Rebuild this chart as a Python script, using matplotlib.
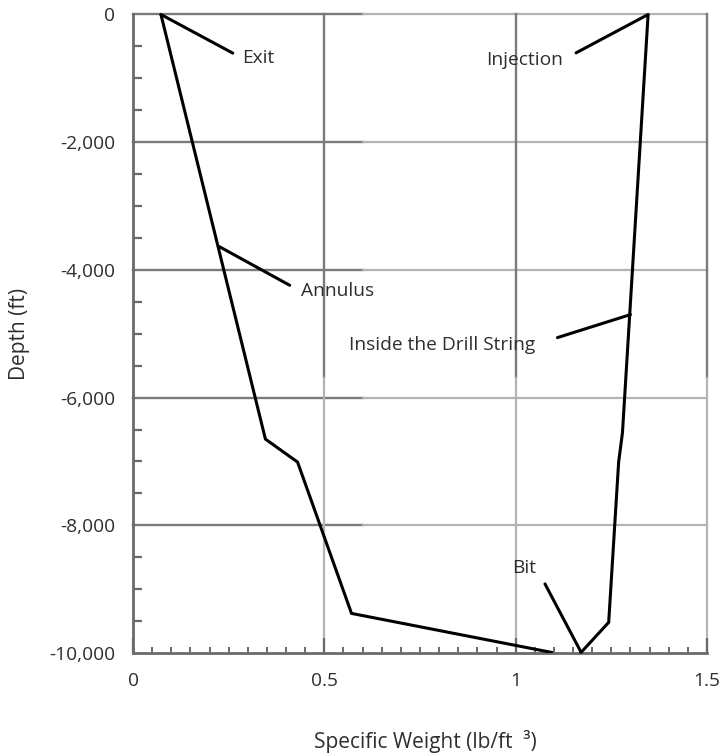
import matplotlib
matplotlib.use("Agg")
import matplotlib.pyplot as plt
from matplotlib.ticker import MultipleLocator, FixedLocator, FixedFormatter

# ---- data ----
annulus_weight = [0.073, 0.346, 0.43, 0.571, 1.093]
annulus_depth = [0, -6650, -7010, -9380, -9990]

drill_weight = [1.346, 1.279, 1.269, 1.243, 1.171]
drill_depth = [0, -6550, -7010, -9520, -9990]

x_ticks = [0, 0.5, 1, 1.5]
x_tick_labels = ["0", "0.5", "1", "1.5"]
y_ticks = [0, -2000, -4000, -6000, -8000, -10000]
y_tick_labels = ["0", "-2,000", "-4,000", "-6,000", "-8,000", "-10,000"]

# annotations: label, point on curve, text position
ann_labels = ["Exit", "Injection", "Annulus", "Inside the Drill String", "Bit"]
ann_points = [(0.073, 0), (1.346, 0), (0.225, -3634), (1.300, -4700), (1.171, -9990)]
ann_text_pos = [(0.284, -680), (1.123, -712), (0.439, -4338), (1.050, -5172), (1.054, -8662)]

plt.rcParams['font.family'] = ['Open Sans', 'DejaVu Sans']
TXT = '#2e2e2e'
DARK = '#7a7a7a'
LIGHT = '#b4b4b4'
FS = 13.8
FS_LAB = 15

fig = plt.figure(figsize=(7.28, 7.55), dpi=100)
ax = fig.add_axes([0.1827, 0.1351, 0.7885, 0.8457])
ax.set_xlim(0, 1.5)
ax.set_ylim(-10000, 0)

# grid (two tone, as in the reference)
for y in [-2000, -4000, -6000, -8000, 0]:
    ax.axhline(y, xmin=0, xmax=0.40, color=DARK, lw=1.7, zorder=1, clip_on=False)
    ax.axhline(y, xmin=0.40, xmax=1, color=LIGHT, lw=1.6, zorder=1, clip_on=False)
for x in [0.5, 1.0, 1.5]:
    ax.axvline(x, ymin=0.43, ymax=1, color=DARK, lw=1.7, zorder=1, clip_on=False)
    ax.axvline(x, ymin=0, ymax=0.43, color=LIGHT, lw=1.6, zorder=1, clip_on=False)

for s in ['top', 'right']:
    ax.spines[s].set_visible(False)
for s in ['left', 'bottom']:
    ax.spines[s].set_color('#6a6a6a')
    ax.spines[s].set_linewidth(2.0)

ax.xaxis.set_major_locator(FixedLocator(x_ticks))
ax.xaxis.set_major_formatter(FixedFormatter(x_tick_labels))
ax.xaxis.set_minor_locator(MultipleLocator(0.05))
ax.yaxis.set_major_locator(FixedLocator(y_ticks))
ax.yaxis.set_major_formatter(FixedFormatter(y_tick_labels))
ax.yaxis.set_minor_locator(MultipleLocator(500))

ax.tick_params(axis='x', which='major', direction='in', length=11, width=1.6,
               color='#6a6a6a', pad=14, labelsize=FS, labelcolor=TXT)
ax.tick_params(axis='x', which='minor', direction='in', length=4.5, width=1.4,
               color='#6a6a6a')
ax.tick_params(axis='y', which='major', direction='in', length=0, pad=13,
               labelsize=FS, labelcolor=TXT)
ax.tick_params(axis='y', which='minor', direction='in', length=6.5, width=1.6,
               color='#6a6a6a')

ax.plot(annulus_weight, annulus_depth, color='black', lw=2.2, zorder=3,
        solid_joinstyle='miter')
ax.plot(drill_weight, drill_depth, color='black', lw=2.2, zorder=3,
        solid_joinstyle='miter')

shrinks = [5, 8.6, 7, 15, 9]
for lab, pt, tp, sh in zip(ann_labels, ann_points, ann_text_pos, shrinks):
    ha = 'left' if lab in ("Exit", "Annulus") else 'right'
    relpos = (0, 0.5) if ha == 'left' else (1, 0.5)
    ax.annotate(lab, xy=pt, xytext=tp, ha=ha, va='center', fontsize=FS,
                color=TXT, zorder=4,
                arrowprops=dict(arrowstyle='-', color='black', lw=2.2,
                                shrinkA=sh, shrinkB=0, relpos=relpos))

ax.set_ylabel('Depth (ft)', fontsize=FS_LAB, color=TXT)
ax.yaxis.set_label_coords(-0.18, 0.5)
fig.text(0.584, 0.018, 'Specific Weight (lb/ft  ³)', ha='center', va='center',
         fontsize=FS_LAB, color=TXT)

fig.savefig('out.png', dpi=100)
